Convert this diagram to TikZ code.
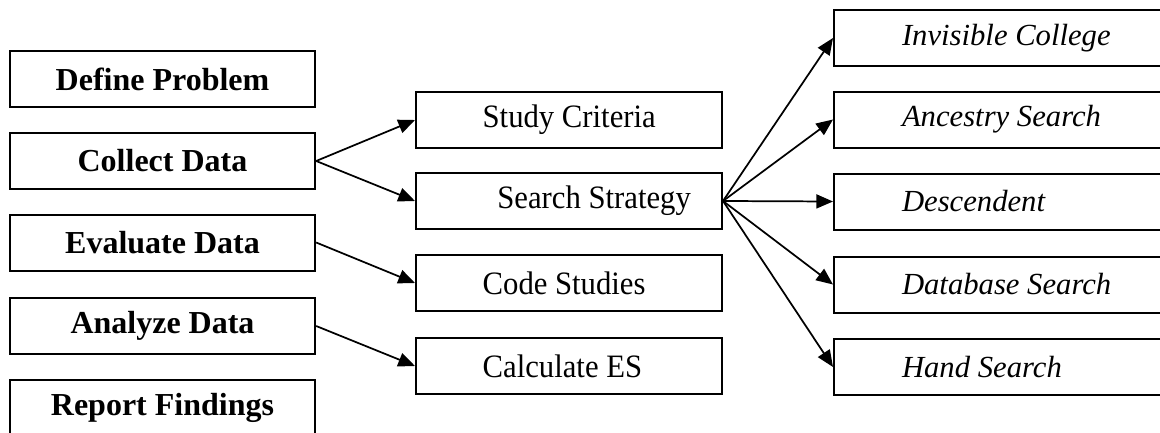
\documentclass[tikz,border=0pt]{standalone}
\usepackage{fontspec}
\setmainfont{Liberation Serif}
\newfontfamily\taskfont{Liberation Serif}[FakeStretch=0.94]
\newcommand{\padtext}[3]{\makebox[#1][l]{\hspace*{#2}#3}}
\usetikzlibrary{arrows.meta,positioning}

\begin{document}
\begin{tikzpicture}[x=0.75pt,y=-0.75pt,
  stage/.style={draw, line width=1.5pt, minimum width=229pt, minimum height=42pt,
                font=\fontsize{24}{28}\selectfont\bfseries},
  task/.style={draw, line width=1.5pt, minimum height=42pt, inner xsep=0pt,
               font=\fontsize{24.5}{28}\taskfont},
  source/.style={task, font=\fontsize{23}{27}\selectfont\itshape},
  link/.style={-{Triangle[length=12.5pt,width=10.5pt]}, line width=1.3pt}]
  \useasboundingbox (0,0) rectangle (1160,432);
  \clip (0,0) rectangle (1160,432);

  \node[stage] (define) at (162.5,79) {Define Problem};
  \node[stage] (collect) at (162.5,161) {Collect Data};
  \node[stage] (evaluate) at (162.5,242.5) {Evaluate Data};
  \node[stage] (analyze) at (162.5,326) {Analyze Data};
  \node[stage] (report) at (162.5,408) {Report Findings};

  \node[task] (criteria) at (569,120) {\padtext{229.5pt}{50pt}{Study Criteria}};
  \node[task] (strategy) at (569,201) {\padtext{229.5pt}{61pt}{Search Strategy}};
  \node[task] (code) at (569,283) {\padtext{229.5pt}{50pt}{Code Studies}};
  \node[task] (calc) at (569,366) {\padtext{229.5pt}{50pt}{Calculate ES}};

  \node[source] (invisible) at (1007,38) {\padtext{259.5pt}{51pt}{Invisible College}};
  \node[source] (ancestry) at (1007,119.5) {\padtext{259.5pt}{51pt}{Ancestry Search}};
  \node[source] (descendent) at (1007,201.5) {\padtext{259.5pt}{51pt}{Descendent}};
  \node[source] (database) at (1007,284.5) {\padtext{259.5pt}{51pt}{Database Search}};
  \node[source] (hand) at (1007,367) {\padtext{259.5pt}{51pt}{Hand Search}};

  \draw[link] (collect.east) -- (criteria.west);
  \draw[link] (collect.east) -- (strategy.west);
  \draw[link] (evaluate.east) -- (code.west);
  \draw[link] (analyze.east) -- (calc.west);

  \draw[link] (strategy.east) -- (invisible.west);
  \draw[link] (strategy.east) -- (ancestry.west);
  \draw[link] (strategy.east) -- (descendent.west);
  \draw[link] (strategy.east) -- (database.west);
  \draw[link] (strategy.east) -- (hand.west);
\end{tikzpicture}
\end{document}
